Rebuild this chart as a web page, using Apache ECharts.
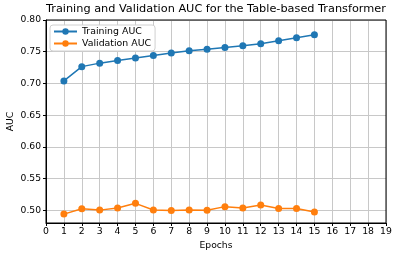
<!DOCTYPE html>
<html><head><meta charset="utf-8">
<script src="https://cdn.jsdelivr.net/npm/echarts@6/dist/echarts.min.js"></script>
<style>html,body{margin:0;padding:0;background:#fff}#c{width:399px;height:258px}</style>
</head><body><div id="c"></div>
<script>
const epochs = [1,2,3,4,5,6,7,8,9,10,11,12,13,14,15];
const trainAUC = [0.704,0.7265,0.732,0.736,0.740,0.744,0.748,0.7515,0.754,0.7565,0.7595,0.7627,0.7674,0.772,0.7768];
const valAUC = [0.494,0.5025,0.5003,0.5035,0.511,0.5005,0.4998,0.5003,0.5002,0.5058,0.5037,0.5084,0.5027,0.5027,0.4975];
const xTicks = [0,1,2,3,4,5,6,7,8,9,10,11,12,13,14,15,16,17,18,19];
const yTicks = [0.50,0.55,0.60,0.65,0.70,0.75,0.80];

const font = 'DejaVu Sans';
const chart = echarts.init(document.getElementById('c'), null, {renderer:'canvas'});
chart.setOption({
  animation:false,
  backgroundColor:'#fff',
  title:{text:'Training and Validation AUC for the Table-based Transformer',left:46,top:4,padding:0,
    textStyle:{fontFamily:font,fontSize:11.3,fontWeight:'normal',color:'#000'}},
  legend:{left:50,top:25,orient:'vertical',itemWidth:23,itemHeight:8,itemGap:3,
    backgroundColor:'#fff',borderColor:'#d0d0d0',borderWidth:1,borderRadius:3,padding:[2,4,3,3],
    textStyle:{fontFamily:font,fontSize:9.4,color:'#000'}},
  grid:{left:46,right:13,top:20,bottom:35,outerBoundsMode:'none',containLabel:false},
  xAxis:{type:'value',min:0,max:19,interval:1,name:'Epochs',nameLocation:'middle',nameGap:18.5,
    nameMoveOverlap:false,
    nameTextStyle:{fontFamily:font,fontSize:9.2,color:'#000'},
    axisLine:{show:true,onZero:false,lineStyle:{color:'#000',width:1}},
    axisTick:{show:true,length:3,lineStyle:{color:'#000'}},
    axisLabel:{fontFamily:font,fontSize:9.3,color:'#000',margin:4,
      formatter:v=>xTicks.includes(v)?String(v):''},
    splitLine:{show:true,lineStyle:{color:'#c8c8c8',width:1}}},
  yAxis:{type:'value',min:0.48,max:0.80,name:'AUC',nameLocation:'middle',nameGap:31,
    nameMoveOverlap:false,
    nameTextStyle:{fontFamily:font,fontSize:9.2,color:'#000'},
    axisLine:{show:true,onZero:false,lineStyle:{color:'#000',width:1}},
    axisTick:{show:true,length:3,lineStyle:{color:'#000'},customValues:yTicks},
    axisLabel:{fontFamily:font,fontSize:9.2,color:'#000',margin:5,customValues:yTicks,
      formatter:v=>v.toFixed(2)},
    splitLine:{show:true,lineStyle:{color:'#c8c8c8',width:1}}},
  series:[
    {name:'Training AUC',type:'line',data:epochs.map((e,i)=>[e,trainAUC[i]]),
      color:'#1f77b4',symbol:'circle',symbolSize:7,lineStyle:{width:1.5},itemStyle:{color:'#1f77b4'}},
    {name:'Validation AUC',type:'line',data:epochs.map((e,i)=>[e,valAUC[i]]),
      color:'#ff7f0e',symbol:'circle',symbolSize:7,lineStyle:{width:1.5},itemStyle:{color:'#ff7f0e'}}
  ],
  graphic:[{type:'rect',shape:{x:46,y:20,width:340,height:203},style:{fill:'none',stroke:'#000',lineWidth:1},z:100,silent:true}]
});
</script></body></html>
